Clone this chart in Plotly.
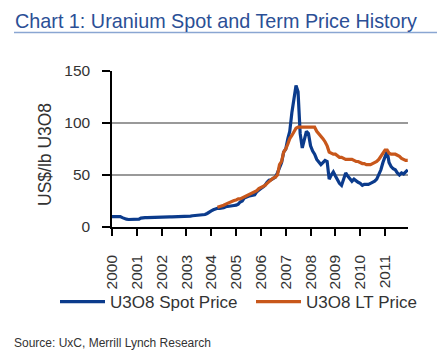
import plotly.graph_objects as go
import pandas as pd

# ---- data ----
spot_start = "2000-01-01"
spot_price = [
    10, 10, 10, 10, 10, 9, 8, 7.5, 7.2, 7.2, 7.2, 7.2,            # 2000
    7.2, 7.5, 8.5, 9, 9, 9, 9, 9, 9, 9, 9, 9,                     # 2001
    9.5, 9.5, 9.5, 9.5, 9.7, 9.8, 9.8, 9.8, 9.8, 9.8, 9.8, 9.9,   # 2002
    10.5, 10.5, 10.5, 10.8, 11, 11, 11, 11, 11.5, 12, 13, 14.5,   # 2003
    15.5, 16.5, 17.5, 18, 18, 18, 18.5, 19.5, 20, 20, 20.5, 20.7, # 2004
    21, 22, 24, 25, 28, 29, 29.5, 30, 30.5, 31, 34, 36,           # 2005
    37, 38.5, 40, 43, 45, 45.5, 47, 48, 52, 58, 62, 72,           # 2006
    75, 85, 92, 110, 125, 136, 130, 90, 76, 85, 92, 90,           # 2007
    78, 73, 70, 65, 62, 60, 62, 64, 63, 46, 50, 53,               # 2008
    49, 45, 42, 40, 46, 52, 49, 46, 44, 46, 44, 43,               # 2009
    42, 40, 41, 41, 41, 42, 43, 44, 46, 50, 55, 62,               # 2010
    68, 73, 62, 58, 56, 55, 52, 50, 52, 51, 53, 55,               # 2011
]
lt_start = "2004-04-01"
lt_price = [
    19, 19.5, 20, 21, 22, 23, 24, 25, 25.5,                       # 2004 Apr-Dec
    26, 27, 27, 28, 29, 30, 31, 32, 33, 34, 35, 37,               # 2005
    38, 39, 40, 42, 44, 45, 47, 48, 50, 60, 63, 72,               # 2006
    75, 80, 85, 88, 92, 95, 96, 96, 96, 96, 96, 96,               # 2007
    96, 96, 96, 92, 90, 88, 85, 82, 78, 72, 71, 70,               # 2008
    70, 68, 67, 67, 66, 65, 65, 65, 65, 64, 63, 63,               # 2009
    62, 61, 61, 60, 60, 60, 61, 62, 63, 65, 68, 72,               # 2010
    74, 74, 71, 70, 70, 70, 69, 68, 66, 65, 64, 64,               # 2011
]
series_names = ["U3O8 Spot Price", "U3O8 LT Price"]
y_ticks = [0, 50, 100, 150]

spot_dates = pd.date_range(spot_start, periods=len(spot_price), freq="MS")
lt_dates = pd.date_range(lt_start, periods=len(lt_price), freq="MS")

BLUE = "#0b3b8c"
ORANGE = "#c8571b"
FONT = "Liberation Sans, Arial, sans-serif"
TXT = "#333333"

W, H = 447, 356
L, R, T, B = 112, 408, 71, 227


def px(x):
    return (x - L) / (R - L)


def py(y):
    return (B - y) / (B - T)


fig = go.Figure()
fig.add_trace(go.Scatter(x=spot_dates, y=spot_price, mode="lines", name=series_names[0],
                         line=dict(color=BLUE, width=3.2)))
fig.add_trace(go.Scatter(x=lt_dates, y=lt_price, mode="lines", name=series_names[1],
                         line=dict(color=ORANGE, width=3.2)))

fig.update_layout(
    width=W, height=H,
    margin=dict(l=L, r=W - R, t=T, b=H - B, autoexpand=False),
    paper_bgcolor="white", plot_bgcolor="white",
    font=dict(family=FONT, color=TXT),
    showlegend=True,
    legend=dict(orientation="h", xref="paper", yref="paper",
                x=px(55), y=py(302), xanchor="left", yanchor="middle",
                font=dict(size=17, color=TXT, family=FONT),
                entrywidth=136, entrywidthmode="pixels", itemwidth=45,
                bgcolor="rgba(0,0,0,0)"),
)
fig.update_xaxes(
    type="date", range=["2000-01-01", "2011-12-05"],
    tick0="2000-01-01", dtick="M12", tickformat="%Y", tickangle=-90,
    ticks="outside", ticklen=7, tickcolor="black", tickwidth=1.5,
    ticklabelstandoff=13, automargin=False,
    showline=True, linecolor="black", linewidth=1.5,
    showgrid=False, zeroline=False,
    tickfont=dict(size=15.5, color=TXT, family=FONT),
)
fig.update_yaxes(
    range=[0, 150], tickvals=y_ticks,
    ticks="outside", ticklen=8, tickcolor="black", tickwidth=1.5,
    ticklabelstandoff=9, automargin=False,
    showline=True, linecolor="black", linewidth=1.5,
    showgrid=True, gridcolor="#999999", gridwidth=1.5, zeroline=False,
    tickfont=dict(size=15.5, color=TXT, family=FONT),
)

fig.add_annotation(text="Chart 1: Uranium Spot and Term Price History",
                   xref="paper", yref="paper", x=px(13), y=py(21),
                   xanchor="left", yanchor="middle", showarrow=False,
                   font=dict(size=19.8, color="#2b4f96", family=FONT))
fig.add_shape(type="line", xref="paper", yref="paper",
              x0=px(14), x1=px(437), y0=py(32.5), y1=py(32.5),
              line=dict(color="#8aa6d2", width=1.5))
fig.add_annotation(text="US$/lb U3O8", xref="paper", yref="paper",
                   x=px(45), y=py(155), textangle=-90,
                   xanchor="center", yanchor="middle", showarrow=False,
                   font=dict(size=17.5, color=TXT, family=FONT))
fig.add_annotation(text="Source: UxC, Merrill Lynch Research",
                   xref="paper", yref="paper", x=px(12), y=py(343),
                   xanchor="left", yanchor="middle", showarrow=False,
                   font=dict(size=12, color=TXT, family=FONT))

fig.write_html("out.html", config={"displayModeBar": False},
               post_script="document.body.style.margin='0px';")
